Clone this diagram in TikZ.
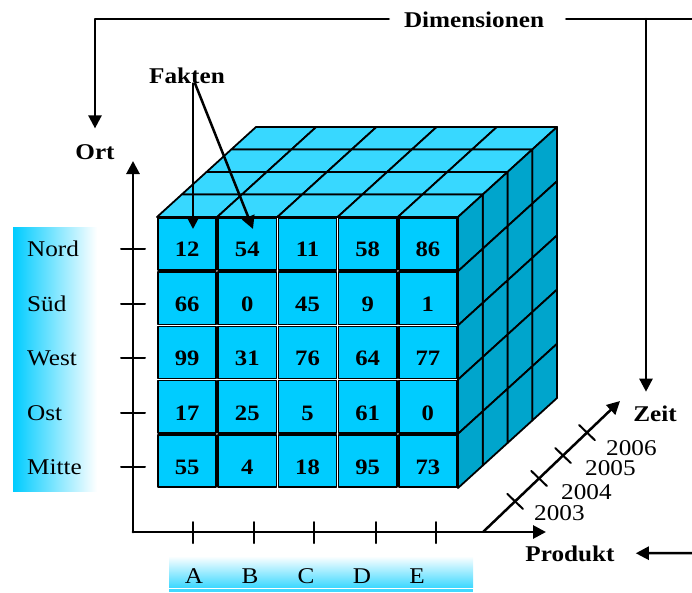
\documentclass[tikz,border=0pt]{standalone}
\usepackage{fontspec}
\setmainfont{Liberation Serif}[FakeStretch=1.12]
\usetikzlibrary{arrows.meta,calc}
\begin{document}
\begin{tikzpicture}[x=1pt, y=-1pt, line cap=round, line join=round,
    lbl/.style={inner sep=0pt, font=\fontsize{22.5}{26}\selectfont},
    blbl/.style={inner sep=0pt, anchor=base, font=\fontsize{22.5}{26}\selectfont\bfseries},
    num/.style={inner sep=0pt, anchor=base, font=\fontsize{22}{24}\selectfont\bfseries},
    arr/.style={line width=2.5pt, -{Triangle[length=13pt,width=13pt]}},
    axtick/.style={line width=2pt}]
  \definecolor{frontcyan}{RGB}{0,204,255}
  \definecolor{topcyan}{RGB}{56,216,255}
  \definecolor{sidecyan}{RGB}{0,165,204}
  \useasboundingbox (0,0) rectangle (692,592);
  \shade[left color=frontcyan, right color=white] (13,227) rectangle (97,491);
  \shade[top color=white, bottom color=frontcyan!75] (169,556) rectangle (473,587);
  \fill[frontcyan!75] (169,589) rectangle (473,592);
  % cube, back layer first
  \foreach \l in {3,2,1,0} {
    \foreach \c in {0,...,4}
      \filldraw[fill=topcyan, line width=1.8pt]
        ({157+60.2*\c+24.75*\l},{217-22.5*\l}) -- ++(60.2,0) -- ++(24.75,-22.5) -- ++(-60.2,0) -- cycle;
    \foreach \r in {0,...,4}
      \filldraw[fill=sidecyan, line width=1.8pt]
        ({458+24.75*\l},{217+54.2*\r-22.5*\l}) -- ++(24.75,-22.5) -- ++(0,54.2) -- ++(-24.75,22.5) -- cycle;
  }
  \foreach \c in {0,...,4}
    \foreach \r in {0,...,4}
      \filldraw[fill=frontcyan, line width=1.5pt]
        ({158+60.2*\c},{218+54.2*\r}) rectangle ++(58.2,52.2);
  \foreach \vals [count=\r from 0] in {{12,54,11,58,86},{66,0,45,9,1},{99,31,76,64,77},{17,25,5,61,0},{55,4,18,95,73}}
    \foreach \v [count=\c from 0] in \vals
      \node[num] (n\r\c) at ({187.1+60.2*\c},{256.5+54.5*\r}) {\v};
  % axes
  \coordinate (origin) at (133,532);
  \coordinate (ytip) at (133,161);
  \coordinate (xtip) at (546,532);
  \coordinate (zstart) at (483,532);
  \coordinate (ztip) at (620,401);
  \draw[arr, line width=2.8pt] (origin) -- (ytip);
  \draw[arr, line width=2.8pt] (origin) -- (xtip);
  \draw[arr] (zstart) -- (ztip);
  \foreach \n [count=\i from 0] in {Nord,Süd,West,Ost,Mitte} {
    \node[lbl, anchor=base west] (row\i) at (27,{256.5+54.5*\i}) {\n};
    \draw[axtick] (121,{249+54.5*\i}) -- (145,{249+54.5*\i});
  }
  \foreach \n/\x [count=\i from 0] in {A/194,B/250,C/306,D/362,E/417}
    \node[lbl, anchor=base] (col\i) at (\x,583) {\n};
  \foreach \x in {193,254,314,376,436}
    \draw[axtick] (\x,522) -- (\x,543);
  \foreach \t in {0.234,0.409,0.584,0.759}
    \draw[axtick] ($(zstart)!\t!(ztip)$) +(-7.8,-7.5) -- +(7.8,7.5);
  \foreach \y/\x/\yy in {2003/534/520.5,2004/561/499.5,2005/585/475.5,2006/606/455.5}
    \node[lbl, anchor=base west] (y\y) at (\x,\yy) {\y};
  % labels and pointers
  \node[blbl] (dim) at (474,27.5) {Dimensionen};
  \node[blbl] (fakten) at (187,83) {Fakten};
  \node[blbl] (ortlbl) at (95,159.5) {Ort};
  \node[blbl] (zeit) at (655,421.5) {Zeit};
  \node[blbl] (produkt) at (570,561) {Produkt};
  \coordinate (bendTR) at (646,19);
  \coordinate (edgeTR) at (692,19);
  \coordinate (edgeBR) at (692,553);
  \coordinate (fact1) at (193,229);
  \coordinate (fact2) at (253,229);
  \draw[arr, shorten >=16pt] (dim.west |- bendTR) ++(-15,0) -| (ortlbl.north);
  \draw[line width=2.5pt] (dim.east |- bendTR) ++(22,0) -- (edgeTR);
  \draw[arr, shorten >=14pt] (bendTR) -- (bendTR |- zeit.north);
  \draw[arr, shorten >=21pt] (edgeBR) -- (produkt.east);
  \draw[arr] ([xshift=6]fakten.south) -- (fact1);
  \draw[arr] ([xshift=8]fakten.south) -- (fact2);
\end{tikzpicture}
\end{document}
